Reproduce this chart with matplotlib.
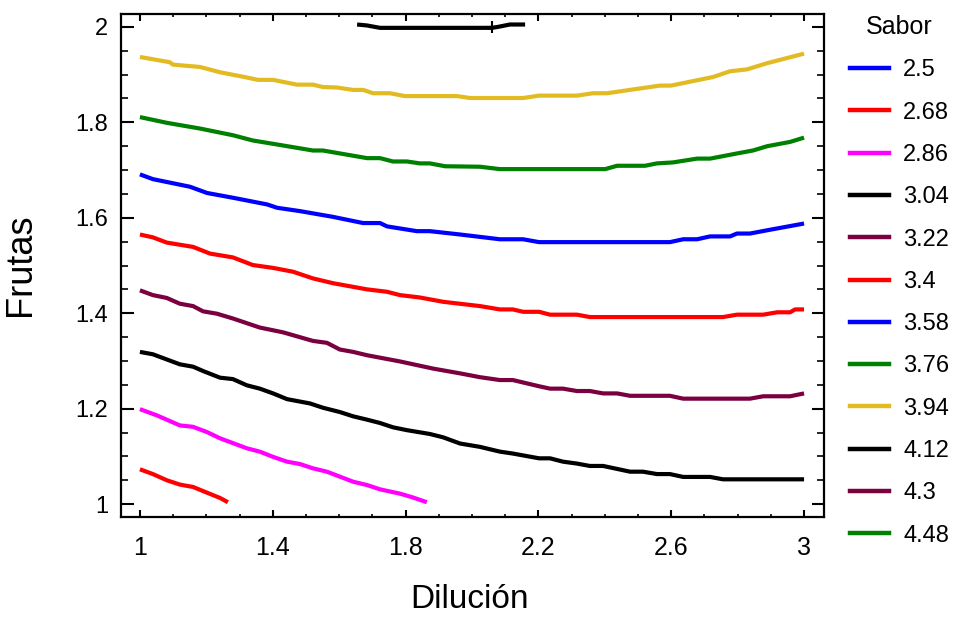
import matplotlib
matplotlib.use('Agg')
import matplotlib.pyplot as plt
from matplotlib.lines import Line2D
from matplotlib.ticker import MultipleLocator

plt.rcParams['font.family'] = ['Liberation Sans', 'DejaVu Sans']

# legend levels and colours
levels = ['2.5', '2.68', '2.86', '3.04', '3.22', '3.4', '3.58', '3.76', '3.94', '4.12', '4.3', '4.48']
colors = ['#0000FF', '#FF0000', '#FF00FF', '#000000', '#7A0040', '#FF0000',
          '#0000FF', '#008000', '#E2BB23', '#000000', '#7A0040', '#008000']

# contour lines (Dilucion, Frutas)
x_268 = [1.000, 1.039, 1.081, 1.120, 1.160, 1.202, 1.241, 1.265]
y_268 = [1.073, 1.063, 1.050, 1.041, 1.036, 1.024, 1.013, 1.004]

x_286 = [1.000, 1.051, 1.120, 1.160, 1.202, 1.241, 1.322, 1.361, 1.401, 1.443,
         1.482, 1.521, 1.563, 1.642, 1.684, 1.723, 1.783, 1.822, 1.864]
y_286 = [1.199, 1.186, 1.165, 1.162, 1.151, 1.138, 1.117, 1.110, 1.099, 1.089,
         1.084, 1.075, 1.068, 1.047, 1.040, 1.031, 1.022, 1.014, 1.004]

x_304 = [1.000, 1.039, 1.120, 1.160, 1.190, 1.241, 1.280, 1.322, 1.361, 1.401,
         1.443, 1.512, 1.551, 1.602, 1.642, 1.684, 1.723, 1.762, 1.804, 1.873,
         1.913, 1.964, 2.024, 2.084, 2.123, 2.202, 2.235, 2.274, 2.316, 2.355,
         2.395, 2.476, 2.515, 2.557, 2.596, 2.636, 2.717, 2.756, 3.000]
y_304 = [1.319, 1.314, 1.293, 1.288, 1.279, 1.265, 1.262, 1.249, 1.242, 1.232,
         1.220, 1.211, 1.202, 1.193, 1.184, 1.177, 1.170, 1.161, 1.155, 1.147,
         1.140, 1.127, 1.120, 1.110, 1.106, 1.096, 1.096, 1.089, 1.085, 1.080,
         1.080, 1.068, 1.068, 1.063, 1.063, 1.057, 1.057, 1.052, 1.052]

x_322 = [1.000, 1.039, 1.081, 1.120, 1.160, 1.190, 1.232, 1.280, 1.361, 1.431,
         1.521, 1.563, 1.602, 1.642, 1.684, 1.783, 1.883, 1.964, 2.024, 2.084,
         2.123, 2.202, 2.235, 2.274, 2.316, 2.355, 2.395, 2.437, 2.476, 2.596,
         2.636, 2.837, 2.877, 2.958, 3.000]
y_322 = [1.448, 1.438, 1.432, 1.420, 1.415, 1.404, 1.399, 1.389, 1.370, 1.360,
         1.342, 1.338, 1.324, 1.319, 1.312, 1.299, 1.284, 1.274, 1.266, 1.260,
         1.260, 1.247, 1.242, 1.242, 1.237, 1.237, 1.232, 1.232, 1.227, 1.227,
         1.221, 1.221, 1.226, 1.226, 1.232]

x_340 = [1.000, 1.039, 1.081, 1.160, 1.211, 1.280, 1.340, 1.401, 1.461, 1.521,
         1.581, 1.684, 1.744, 1.783, 1.843, 1.913, 2.024, 2.084, 2.123, 2.154,
         2.202, 2.235, 2.316, 2.355, 2.756, 2.798, 2.877, 2.919, 2.958, 2.973,
         3.000]
y_340 = [1.565, 1.559, 1.548, 1.539, 1.525, 1.517, 1.501, 1.495, 1.487, 1.473,
         1.463, 1.450, 1.445, 1.438, 1.433, 1.424, 1.415, 1.408, 1.408, 1.403,
         1.403, 1.397, 1.397, 1.392, 1.392, 1.397, 1.397, 1.402, 1.402, 1.408,
         1.408]

x_358 = [1.000, 1.039, 1.151, 1.202, 1.280, 1.383, 1.413, 1.482, 1.581, 1.672,
         1.723, 1.744, 1.834, 1.873, 1.964, 2.024, 2.084, 2.154, 2.202, 2.596,
         2.636, 2.678, 2.717, 2.777, 2.798, 2.837, 2.898, 3.000]
y_358 = [1.691, 1.681, 1.665, 1.652, 1.642, 1.628, 1.621, 1.614, 1.602, 1.589,
         1.589, 1.582, 1.572, 1.572, 1.565, 1.560, 1.555, 1.555, 1.549, 1.549,
         1.555, 1.555, 1.561, 1.561, 1.567, 1.567, 1.575, 1.588]

x_376 = [1.000, 1.081, 1.181, 1.280, 1.340, 1.401, 1.521, 1.551, 1.684, 1.723,
         1.762, 1.804, 1.843, 1.873, 1.919, 2.024, 2.084, 2.401, 2.437, 2.521,
         2.557, 2.605, 2.678, 2.717, 2.807, 2.846, 2.889, 2.958, 3.000]
y_376 = [1.811, 1.799, 1.787, 1.773, 1.762, 1.755, 1.741, 1.741, 1.725, 1.725,
         1.718, 1.718, 1.714, 1.714, 1.708, 1.707, 1.702, 1.702, 1.709, 1.709,
         1.714, 1.716, 1.724, 1.724, 1.736, 1.741, 1.750, 1.759, 1.768]

x_394 = [1.000, 1.090, 1.099, 1.181, 1.241, 1.322, 1.355, 1.401, 1.473, 1.521,
         1.551, 1.593, 1.642, 1.672, 1.702, 1.753, 1.798, 1.955, 1.994, 2.154,
         2.202, 2.316, 2.364, 2.407, 2.476, 2.566, 2.599, 2.726, 2.777, 2.828,
         2.889, 3.000]
y_394 = [1.937, 1.926, 1.921, 1.916, 1.905, 1.894, 1.889, 1.889, 1.879, 1.879,
         1.874, 1.873, 1.868, 1.868, 1.861, 1.861, 1.855, 1.855, 1.851, 1.851,
         1.856, 1.856, 1.861, 1.861, 1.868, 1.877, 1.877, 1.895, 1.907, 1.911,
         1.924, 1.944]

x_412 = [1.654, 1.684, 1.723, 2.060, 2.078, 2.114, 2.160]
y_412 = [2.005, 2.003, 1.998, 1.998, 2.000, 2.005, 2.005]

# small cross on the top line
x_mark = [2.060]
y_mark = [1.999]

contours = [(1, x_268, y_268), (2, x_286, y_286), (3, x_304, y_304),
            (4, x_322, y_322), (5, x_340, y_340), (6, x_358, y_358),
            (7, x_376, y_376), (8, x_394, y_394), (9, x_412, y_412)]

xticks = [1, 1.4, 1.8, 2.2, 2.6, 3]
xtick_labels = ['1', '1.4', '1.8', '2.2', '2.6', '3']
yticks = [1, 1.2, 1.4, 1.6, 1.8, 2]
ytick_labels = ['1', '1.2', '1.4', '1.6', '1.8', '2']

fig = plt.figure(figsize=(9.55, 6.2), dpi=100)
ax = fig.add_axes([0.1267, 0.1661, 0.7361, 0.8113])

for i, xs, ys in contours:
    ax.plot(xs, ys, color=colors[i], lw=3, solid_capstyle='butt')
ax.plot(x_mark, y_mark, '+', color='black', ms=9, mew=1.5)

ax.set_xlim(0.943, 3.06)
ax.set_ylim(0.973, 2.027)
ax.set_xticks(xticks)
ax.set_xticklabels(xtick_labels)
ax.set_yticks(yticks)
ax.set_yticklabels(ytick_labels)
ax.xaxis.set_minor_locator(MultipleLocator(0.1))
ax.yaxis.set_minor_locator(MultipleLocator(0.05))

for s in ax.spines.values():
    s.set_linewidth(1.6)
ax.tick_params(axis='x', which='major', direction='in', length=5, width=1.5,
               top=True, labelsize=18, pad=14)
ax.tick_params(axis='x', which='minor', direction='in', length=2.5, width=1.2, top=True)
ax.tick_params(axis='y', which='major', direction='in', length=9, width=1.5,
               right=True, labelsize=17, pad=9)
ax.tick_params(axis='y', which='minor', direction='in', length=5, width=1.2, right=True)

ax.set_xlabel('Dilución', fontsize=24)
ax.xaxis.set_label_coords(0.496, -0.134)
ax.set_ylabel('Frutas', fontsize=26)
ax.yaxis.set_label_coords(-0.118, 0.501)

handles = [Line2D([], [], color=c, lw=3.2) for c in colors]
leg = fig.legend(handles, levels, title='Sabor', loc='upper left',
                 bbox_to_anchor=(850 / 955, 1 - 15 / 620), frameon=False,
                 fontsize=17, title_fontsize=18, borderpad=0, borderaxespad=0,
                 handlelength=1.65, handletextpad=0.6, labelspacing=0.86)

fig.savefig('out.png', dpi=100)
